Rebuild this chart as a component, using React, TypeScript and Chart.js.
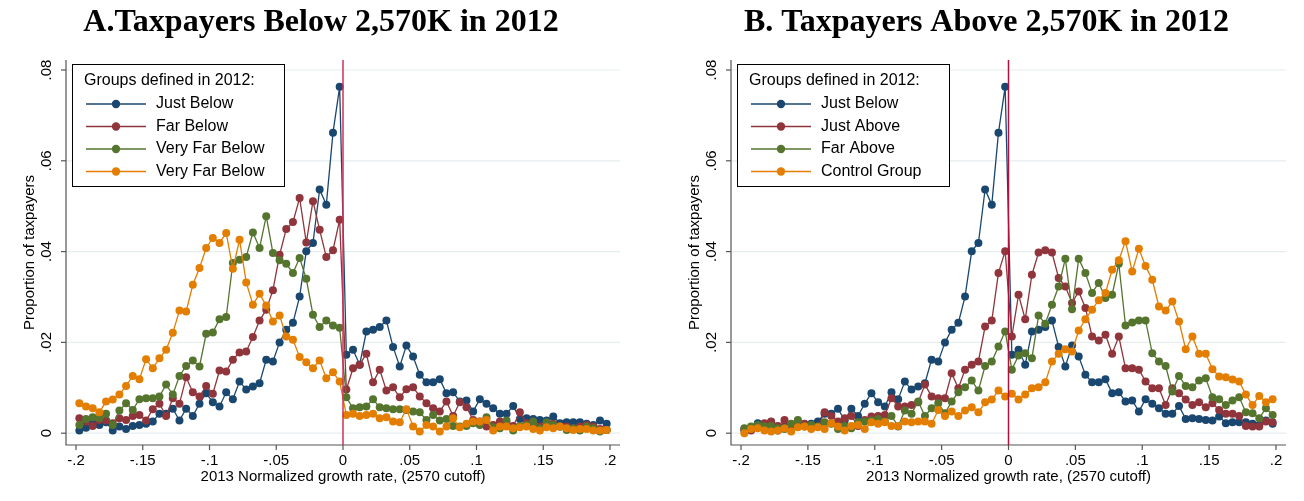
import { Chart, registerables } from "chart.js";
import React, { useEffect, useRef } from "react";

Chart.register(...registerables);

// bin centres: -0.1975 ... 0.1975
const xBins: number[] = Array.from({ length: 80 }, (_, i) => +(-0.1975 + 0.005 * i).toFixed(4));
const xTicks = [-0.2, -0.15, -0.1, -0.05, 0, 0.05, 0.1, 0.15, 0.2];
const xTickLabels = ["-.2", "-.15", "-.1", "-.05", "0", ".05", ".1", ".15", ".2"];
const yTicks = [0, 0.02, 0.04, 0.06, 0.08];
const yTickLabels = ["0", ".02", ".04", ".06", ".08"];

const justBelow = [
  0.0006, 0.0012, 0.0022, 0.0018, 0.0024, 0.0006, 0.0015, 0.0009, 0.0016, 0.0018,
  0.0021, 0.0026, 0.0043, 0.0043, 0.0054, 0.0028, 0.0054, 0.0038, 0.0065, 0.0088,
  0.0068, 0.0059, 0.009, 0.0075, 0.0114, 0.0096, 0.0103, 0.011, 0.0162, 0.0158,
  0.02, 0.0228, 0.0243, 0.0301, 0.0401, 0.0419, 0.0537, 0.0503, 0.0662, 0.0763,
  0.0173, 0.0184, 0.0151, 0.0224, 0.0228, 0.0234, 0.0248, 0.019, 0.0147, 0.0193,
  0.0169, 0.0129, 0.0112, 0.0112, 0.0119, 0.0088, 0.009, 0.007, 0.0072, 0.0048,
  0.0075, 0.0065, 0.0055, 0.0043, 0.0043, 0.006, 0.0031, 0.0033, 0.0031, 0.0029,
  0.0028, 0.0037, 0.0022, 0.0024, 0.0024, 0.0024, 0.0021, 0.0018, 0.0028, 0.0021,
];
const farBelow = [
  0.0033, 0.0026, 0.0016, 0.0029, 0.0028, 0.0022, 0.0033, 0.0029, 0.0038, 0.004,
  0.0028, 0.0053, 0.0065, 0.0038, 0.0077, 0.0065, 0.0123, 0.009, 0.0081, 0.0104,
  0.0087, 0.0138, 0.0136, 0.0162, 0.0178, 0.018, 0.0212, 0.0248, 0.0272, 0.0315,
  0.0393, 0.045, 0.0465, 0.0518, 0.042, 0.0511, 0.0448, 0.0388, 0.0403, 0.047,
  0.0096, 0.0143, 0.0151, 0.0175, 0.0112, 0.014, 0.0094, 0.0101, 0.0079, 0.0097,
  0.0101, 0.0081, 0.0066, 0.0055, 0.0048, 0.007, 0.0038, 0.0068, 0.0057, 0.0029,
  0.0026, 0.0015, 0.0018, 0.0026, 0.0022, 0.0016, 0.0046, 0.0022, 0.0018, 0.0015,
  0.0018, 0.0021, 0.0015, 0.0015, 0.0011, 0.0015, 0.0018, 0.0015, 0.0009, 0.0007,
];
const veryFarBelow = [
  0.0018, 0.0031, 0.0035, 0.0033, 0.0043, 0.0018, 0.005, 0.0066, 0.0051, 0.0075,
  0.0077, 0.0077, 0.0081, 0.0107, 0.0085, 0.0126, 0.0148, 0.016, 0.0147, 0.0219,
  0.0222, 0.0251, 0.0256, 0.0375, 0.0382, 0.0388, 0.0442, 0.0408, 0.0478, 0.0397,
  0.0381, 0.0373, 0.0353, 0.0386, 0.034, 0.0261, 0.0234, 0.0248, 0.0237, 0.0232,
  0.0079, 0.0055, 0.0057, 0.0059, 0.0075, 0.0057, 0.0055, 0.0053, 0.0053, 0.0051,
  0.0048, 0.0046, 0.0029, 0.004, 0.0028, 0.0031, 0.0016, 0.0015, 0.0016, 0.0022,
  0.0018, 0.0035, 0.0013, 0.0011, 0.0028, 0.0006, 0.0016, 0.0018, 0.0026, 0.0011,
  0.0024, 0.0018, 0.0015, 0.0007, 0.0011, 0.0006, 0.0015, 0.0011, 0.0004, 0.0007,
];
const veryFarBelow2 = [
  0.0066, 0.0059, 0.0055, 0.0046, 0.007, 0.0074, 0.0085, 0.0104, 0.0126, 0.0119,
  0.0163, 0.0143, 0.0165, 0.0184, 0.0221, 0.027, 0.0268, 0.0327, 0.0364, 0.0408,
  0.043, 0.0419, 0.0441, 0.0362, 0.0426, 0.0332, 0.0283, 0.0307, 0.0281, 0.0246,
  0.0259, 0.0213, 0.0206, 0.0168, 0.0156, 0.0143, 0.016, 0.0121, 0.0134, 0.0114,
  0.004, 0.0043, 0.0038, 0.004, 0.0043, 0.0033, 0.0035, 0.0026, 0.0024, 0.0053,
  0.0015, 0.0004, 0.0018, 0.0015, 0.0004, 0.0015, 0.0033, 0.0013, 0.0021, 0.0026,
  0.0026, 0.0029, 0.0006, 0.0015, 0.0015, 0.0011, 0.0013, 0.0015, 0.0009, 0.0006,
  0.0013, 0.0011, 0.0015, 0.0011, 0.0007, 0.0009, 0.0009, 0.0006, 0.0006, 0.0007,
];
const justAbove = [
  0.0009, 0.0006, 0.0016, 0.0022, 0.0026, 0.0016, 0.0029, 0.0016, 0.0026, 0.0021,
  0.0018, 0.0015, 0.0046, 0.0038, 0.0026, 0.0033, 0.0038, 0.0016, 0.0029, 0.0037,
  0.0038, 0.004, 0.0077, 0.0059, 0.0059, 0.0062, 0.0068, 0.0107, 0.0081, 0.0077,
  0.0077, 0.0132, 0.0099, 0.014, 0.0151, 0.0158, 0.0235, 0.0248, 0.0353, 0.0401,
  0.0213, 0.0305, 0.0251, 0.0349, 0.0398, 0.0403, 0.0398, 0.0342, 0.0323, 0.0287,
  0.0312, 0.0276, 0.0213, 0.0204, 0.0217, 0.0175, 0.0213, 0.0143, 0.0143, 0.014,
  0.0114, 0.0099, 0.0099, 0.0062, 0.0099, 0.0088, 0.0074, 0.0062, 0.0068, 0.0057,
  0.0066, 0.0051, 0.0043, 0.0043, 0.0038, 0.0016, 0.0015, 0.0015, 0.0026, 0.0024,
];
const farAbove = [
  0.0011, 0.0015, 0.0018, 0.0015, 0.0016, 0.0011, 0.0009, 0.0021, 0.0029, 0.0015,
  0.0018, 0.0015, 0.0024, 0.0021, 0.0009, 0.0016, 0.0011, 0.0024, 0.0026, 0.0028,
  0.0031, 0.0026, 0.0038, 0.0015, 0.005, 0.0043, 0.007, 0.0038, 0.0055, 0.0066,
  0.0044, 0.007, 0.009, 0.0101, 0.0116, 0.0094, 0.0148, 0.0158, 0.0191, 0.0224,
  0.014, 0.0171, 0.0176, 0.0165, 0.0259, 0.0241, 0.0283, 0.0323, 0.0384, 0.0273,
  0.0384, 0.0353, 0.0309, 0.0331, 0.0298, 0.0305, 0.0373, 0.0237, 0.0244, 0.0248,
  0.0248, 0.0176, 0.0158, 0.0148, 0.0092, 0.0126, 0.0104, 0.0101, 0.0116, 0.0121,
  0.0079, 0.0075, 0.0062, 0.0072, 0.0079, 0.0046, 0.0044, 0.0033, 0.0055, 0.004,
];
const controlGroup = [
  0.0, 0.0009, 0.0011, 0.0006, 0.0004, 0.0006, 0.0011, 0.0004, 0.0013, 0.0015,
  0.0009, 0.0013, 0.0009, 0.0022, 0.0015, 0.0006, 0.0016, 0.0018, 0.0009, 0.0024,
  0.0021, 0.0024, 0.0016, 0.0016, 0.0026, 0.0024, 0.0026, 0.0026, 0.0021, 0.0051,
  0.0038, 0.0048, 0.0038, 0.005, 0.0057, 0.0046, 0.0068, 0.0074, 0.0094, 0.0081,
  0.0087, 0.0074, 0.0085, 0.0099, 0.0101, 0.0112, 0.0158, 0.0175, 0.0185, 0.018,
  0.0226, 0.0251, 0.0272, 0.0293, 0.0309, 0.036, 0.0381, 0.0423, 0.0356, 0.0406,
  0.0368, 0.0338, 0.0279, 0.027, 0.029, 0.0246, 0.0185, 0.0213, 0.0175, 0.0175,
  0.0141, 0.0125, 0.0123, 0.0118, 0.0114, 0.0085, 0.0062, 0.0082, 0.0068, 0.0075,
];

const colors = ["#1a476f", "#90353b", "#55752f", "#e37e00"];
const font = "'Liberation Sans', Arial, sans-serif";

interface Panel {
  title: string;
  names: string[];
  series: number[][];
  cutColor: string;
  padLeft: number;
  padRight: number;
}

const panels: Panel[] = [
  {
    title: "A.Taxpayers Below 2,570K in 2012",
    names: ["Just Below", "Far Below", "Very Far Below", "Very Far Below"],
    series: [justBelow, farBelow, veryFarBelow, veryFarBelow2],
    cutColor: "#d0305a",
    padLeft: 66,
    padRight: 32,
  },
  {
    title: "B. Taxpayers Above 2,570K in 2012",
    names: ["Just Below", "Just Above", "Far Above", "Control Group"],
    series: [justBelow, justAbove, farAbove, controlGroup],
    cutColor: "#b0103a",
    padLeft: 79,
    padRight: 18,
  },
];

const decorations = (p: Panel) => ({
  id: "decor",
  beforeDatasetsDraw(chart: any) {
    const { ctx, chartArea: a, scales } = chart;
    const x = scales.x, y = scales.y;
    ctx.save();
    // grid
    ctx.strokeStyle = "#e6eef0";
    ctx.lineWidth = 1.2;
    yTicks.forEach((v) => {
      const py = y.getPixelForValue(v);
      ctx.beginPath();
      ctx.moveTo(a.left, py);
      ctx.lineTo(a.right, py);
      ctx.stroke();
    });
    // axes
    ctx.strokeStyle = "#555";
    ctx.lineWidth = 1.2;
    ctx.beginPath();
    ctx.moveTo(a.left, a.top);
    ctx.lineTo(a.left, a.bottom);
    ctx.lineTo(a.right, a.bottom);
    ctx.stroke();
    ctx.fillStyle = "#000";
    ctx.font = `15px ${font}`;
    yTicks.forEach((v, i) => {
      const py = y.getPixelForValue(v);
      ctx.beginPath();
      ctx.moveTo(a.left - 5, py);
      ctx.lineTo(a.left, py);
      ctx.stroke();
      ctx.save();
      ctx.translate(a.left - 12, py);
      ctx.rotate(-Math.PI / 2);
      ctx.textAlign = "center";
      ctx.textBaseline = "bottom";
      ctx.fillText(yTickLabels[i], 0, 0);
      ctx.restore();
    });
    ctx.textAlign = "center";
    ctx.textBaseline = "top";
    xTicks.forEach((v, i) => {
      const px = x.getPixelForValue(v);
      ctx.beginPath();
      ctx.moveTo(px, a.bottom);
      ctx.lineTo(px, a.bottom + 5);
      ctx.stroke();
      ctx.fillText(xTickLabels[i], px, a.bottom + 8);
    });
    ctx.fillText("2013 Normalized growth rate, (2570 cutoff)", (x.getPixelForValue(-0.2) + x.getPixelForValue(0.2)) / 2, a.bottom + 24);
    ctx.save();
    ctx.translate(a.left - 36, (a.top + a.bottom) / 2);
    ctx.rotate(-Math.PI / 2);
    ctx.textBaseline = "middle";
    ctx.fillText("Proportion of taxpayers", 0, 0);
    ctx.restore();
    // title
    ctx.font = `bold 32px 'Liberation Serif', 'Times New Roman', serif`;
    ctx.textBaseline = "middle";
    ctx.fillText(p.title, (a.left + a.right) / 2 - 22, 23);
    ctx.restore();
  },
  afterDatasetsDraw(chart: any) {
    const { ctx, chartArea: a, scales } = chart;
    ctx.save();
    const px = scales.x.getPixelForValue(0);
    ctx.strokeStyle = p.cutColor;
    ctx.lineWidth = 1.5;
    ctx.beginPath();
    ctx.moveTo(px, a.top);
    ctx.lineTo(px, a.bottom);
    ctx.stroke();
    // legend
    const lx = a.left + 6, ly = a.top + 4, w = 212, h = 122;
    ctx.fillStyle = "#fff";
    ctx.fillRect(lx, ly, w, h);
    ctx.strokeStyle = "#000";
    ctx.lineWidth = 1;
    ctx.strokeRect(lx + 0.5, ly + 0.5, w, h);
    ctx.fillStyle = "#000";
    ctx.font = `16px ${font}`;
    ctx.textBaseline = "middle";
    ctx.textAlign = "left";
    ctx.fillText("Groups defined in 2012:", lx + 12, ly + 17);
    p.names.forEach((n, i) => {
      const yy = ly + 40 + i * 22.5;
      ctx.strokeStyle = colors[i];
      ctx.lineWidth = 1.5;
      ctx.beginPath();
      ctx.moveTo(lx + 14, yy);
      ctx.lineTo(lx + 74, yy);
      ctx.stroke();
      ctx.fillStyle = colors[i];
      ctx.beginPath();
      ctx.arc(lx + 44, yy, 4.2, 0, Math.PI * 2);
      ctx.fill();
      ctx.fillStyle = "#000";
      ctx.fillText(n, lx + 84, yy);
    });
    ctx.restore();
  },
});

const PanelChart: React.FC<{ p: Panel; left: number }> = ({ p, left }) => {
  const ref = useRef<HTMLCanvasElement>(null);
  useEffect(() => {
    if (!ref.current) return;
    const chart = new Chart(ref.current, {
      type: "line",
      data: {
        datasets: p.series.map((s, i) => ({
          label: p.names[i],
          data: s.map((v, j) => ({ x: xBins[j], y: v })),
          borderColor: colors[i],
          backgroundColor: colors[i],
          borderWidth: 1.3,
          pointRadius: 4,
          pointBorderWidth: 0,
          order: 4 - i,
        })),
      },
      options: {
        animation: false,
        responsive: false,
        layout: { padding: { left: p.padLeft, right: p.padRight, top: 60, bottom: 56 } },
        plugins: { legend: { display: false }, tooltip: { enabled: false } },
        scales: {
          x: { type: "linear", display: false, min: -0.2075, max: 0.2075 },
          y: { type: "linear", display: false, min: -0.0026, max: 0.0822 },
        },
      },
      plugins: [decorations(p)],
    });
    return () => chart.destroy();
  }, []);
  return <canvas ref={ref} width={652} height={501} style={{ position: "absolute", left, top: 0 }} />;
};

export default function App() {
  useEffect(() => {
    document.body.style.margin = "0";
  }, []);
  return (
    <div style={{ position: "relative", width: 1304, height: 501, background: "#fff" }}>
      <PanelChart p={panels[0]} left={0} />
      <PanelChart p={panels[1]} left={652} />
    </div>
  );
}
